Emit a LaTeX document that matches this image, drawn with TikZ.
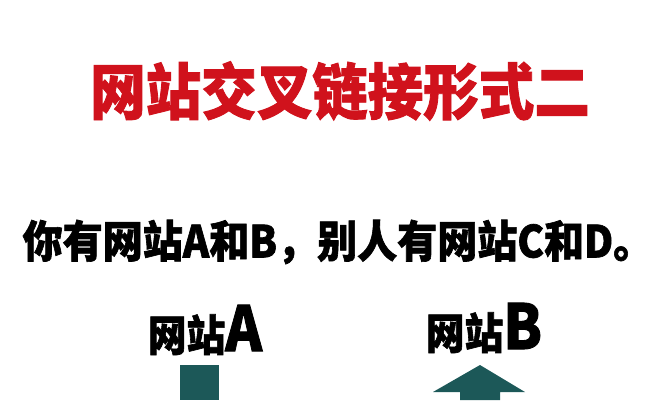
\documentclass[tikz,border=0pt]{standalone}
\usepackage{fontspec}
\newfontfamily\cjk[BoldFeatures={FakeBold=1.5}]{Noto Sans CJK SC}
\definecolor{titlered}{RGB}{208,18,28}
\definecolor{teal}{RGB}{28,88,88}
\begin{document}
\begin{tikzpicture}[x=1pt,y=-1pt,
  titletext/.style={inner sep=0pt,text=titlered,font=\cjk\bfseries\fontsize{61}{61}\selectfont},
  subtext/.style={inner sep=0pt,text=black,font=\cjk\bfseries\fontsize{44}{44}\selectfont},
  labeltext/.style={inner sep=0pt,text=black,font=\cjk\bfseries\fontsize{43}{43}\selectfont},
  shapefill/.style={fill=teal,draw=none}]
\useasboundingbox (0,0) rectangle (667,400);
\fill[white] (0,0) rectangle (667,400);
\node[titletext] (title) at (340,91) {\scalebox{0.91}[1]{网站交叉链接形式二}};
\node[subtext] (sub) at (338,242) {\scalebox{0.91}[1]{你有网站A和B，别人有网站C和D。}};
\node[labeltext] (la) at (205,330) {\scalebox{0.9}[1]{网站{\fontsize{62}{62}\selectfont A}}};
\node[labeltext] (lb) at (484,328) {\scalebox{0.9}[1]{网站{\fontsize{62}{62}\selectfont B}}};
\fill[shapefill] (180,365) rectangle (219,400);
\fill[shapefill] (480,365) -- (525,392) -- (500,392) -- (500,400) -- (460,400) -- (460,392) -- (433,392) -- cycle;
\end{tikzpicture}
\end{document}
